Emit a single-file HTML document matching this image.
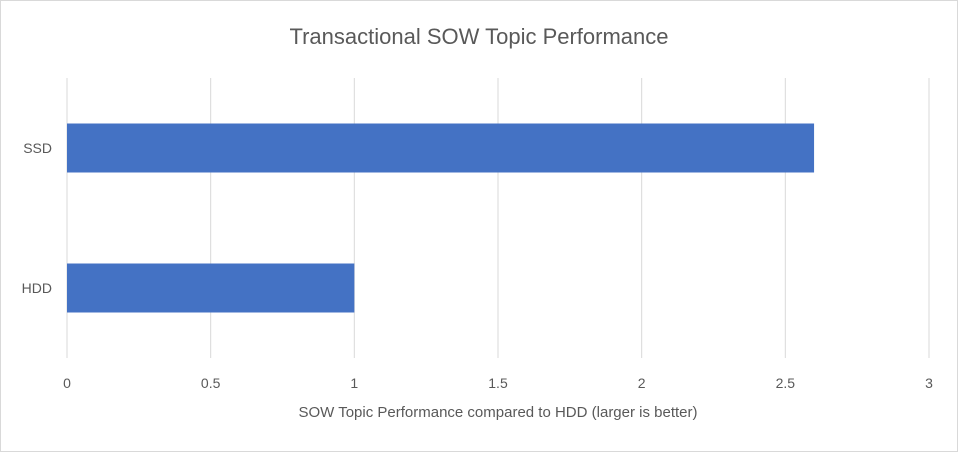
<!DOCTYPE html>
<html><head><meta charset="utf-8"><style>
body{margin:0;background:#fff;}
svg{display:block;font-family:"Liberation Sans",sans-serif;}
</style></head><body>
<svg width="958" height="452">
<rect x="0.5" y="0.5" width="957" height="451" fill="#fff" stroke="#d9d9d9"/>
<text x="479" y="44" text-anchor="middle" font-size="22" fill="#595959">Transactional SOW Topic Performance</text>
<g id="grid"></g><g id="bars"></g><g id="xt"></g><g id="yt"></g>
<text x="498" y="417" text-anchor="middle" font-size="15" fill="#595959">SOW Topic Performance compared to HDD (larger is better)</text>
</svg>
<script>
const categories=["SSD","HDD"];
const values=[2.6,1.0];
const ticks=[0,0.5,1,1.5,2,2.5,3];
const tickLabels=["0","0.5","1","1.5","2","2.5","3"];
const ns="http://www.w3.org/2000/svg";
const x0=67,x1=929,xmax=3;
function xs(v){return x0+(x1-x0)*v/xmax;}
const bandTop=78,bandH=280,band=bandH/categories.length;
function yc(i){return bandTop+band*(i+0.5);}
function mk(t,a,p){const e=document.createElementNS(ns,t);for(const k in a)e.setAttribute(k,a[k]);document.getElementById(p).appendChild(e);return e;}
ticks.forEach((t,i)=>{
 const l=mk("line",{x1:xs(t),x2:xs(t),y1:bandTop,y2:bandTop+bandH,stroke:"#d9d9d9","stroke-width":1},"grid");
 
 
 const tx=mk("text",{x:xs(t),y:388,"text-anchor":"middle","font-size":14,fill:"#595959"},"xt");
 tx.textContent=tickLabels[i];
 
 
});
categories.forEach((c,i)=>{
 const h=band*0.35;
 const r=mk("rect",{x:xs(0),y:yc(i)-h/2,width:xs(values[i])-xs(0),height:h,fill:"#4472c4"},"bars");
 
 
 const tx=mk("text",{x:52,y:yc(i)+5,"text-anchor":"end","font-size":14,fill:"#595959"},"yt");
 tx.textContent=c;
 
 
});
</script>
</body></html>
